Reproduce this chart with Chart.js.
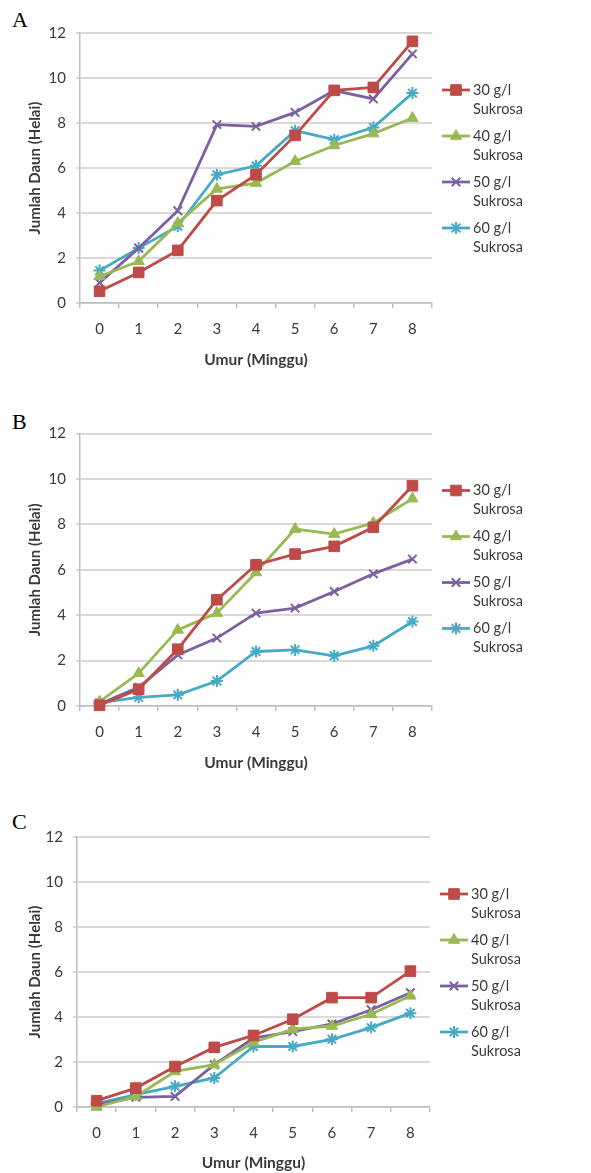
<!DOCTYPE html>
<html lang="id">
<head>
<meta charset="UTF-8" />
<title>Jumlah Daun per Minggu</title>
<script src="https://cdn.jsdelivr.net/npm/chart.js"></script>
<style>
    * { box-sizing: border-box; margin: 0; padding: 0; }
    body {
        width: 591px; height: 1173px;
        overflow: hidden;
        background: #fff;
        position: relative;
        font-family: Lato, sans-serif;
    }
    .panel { position: absolute; left: 0; width: 591px; height: 380px; }
    .huruf {
        position: absolute; left: 12px;
        font-family: 'Liberation Serif', serif;
        font-size: 22px; line-height: 22px;
        color: #000;
    }
</style>
</head>
<body>

<div class="huruf" style="top:9px">A</div>
<div class="huruf" style="top:411px">B</div>
<div class="huruf" style="top:811px">C</div>

<div class="panel" style="top:0px"><canvas id="grafikA" width="591" height="380"></canvas></div>
<div class="panel" style="top:400px"><canvas id="grafikB" width="591" height="380"></canvas></div>
<div class="panel" style="top:800px"><canvas id="grafikC" width="591" height="380"></canvas></div>

<script>
// data
const minggu = ['0', '1', '2', '3', '4', '5', '6', '7', '8'];
const tickY = [0, 2, 4, 6, 8, 10, 12];
const konsentrasi = ['30 g/l', '40 g/l', '50 g/l', '60 g/l'];

// A
const a30 = [0.52, 1.36, 2.34, 4.55, 5.70, 7.45, 9.45, 9.58, 11.63];
const a40 = [1.18, 1.85, 3.55, 5.07, 5.33, 6.30, 7.00, 7.53, 8.22];
const a50 = [0.90, 2.44, 4.10, 7.93, 7.85, 8.47, 9.44, 9.07, 11.07];
const a60 = [1.44, 2.44, 3.41, 5.70, 6.10, 7.66, 7.26, 7.80, 9.33];
// B
const b30 = [0.03, 0.74, 2.50, 4.68, 6.22, 6.69, 7.03, 7.87, 9.70];
const b40 = [0.19, 1.44, 3.35, 4.09, 5.88, 7.79, 7.57, 8.06, 9.13];
const b50 = [0.09, 0.82, 2.25, 2.99, 4.09, 4.31, 5.04, 5.82, 6.47];
const b60 = [0.15, 0.38, 0.49, 1.10, 2.40, 2.47, 2.21, 2.65, 3.72];
// C
const c30 = [0.28, 0.84, 1.80, 2.65, 3.18, 3.90, 4.86, 4.86, 6.04];
const c40 = [0.00, 0.47, 1.58, 1.88, 2.87, 3.46, 3.60, 4.12, 4.94];
const c50 = [0.10, 0.43, 0.47, 1.88, 3.06, 3.35, 3.69, 4.32, 5.08];
const c60 = [0.15, 0.55, 0.92, 1.29, 2.69, 2.69, 3.01, 3.53, 4.17];

const warna = ['#BE4B48', '#98B954', '#7D60A0', '#46AAC5'];
const gaya = ['rect', 'triangle', 'crossRot', 'star'];
const ukuran = [7.5, 6.5, 6, 6];
const teksGelap = '#3a3a3a';

// legenda di kanan, dua baris per seri
const legendaKanan = {
    id: 'legendaKanan',
    afterDraw(chart) {
        const { ctx, chartArea } = chart;
        const x0 = chartArea.right + 10;
        ctx.save();
        chart.data.datasets.forEach((ds, i) => {
            const y = chartArea.top + 57 + i * 46;
            ctx.strokeStyle = ds.borderColor;
            ctx.fillStyle = ds.backgroundColor;
            ctx.lineWidth = 2.8;
            ctx.beginPath();
            ctx.moveTo(x0, y);
            ctx.lineTo(x0 + 28, y);
            ctx.stroke();
            ctx.lineWidth = ds.pointBorderWidth;
            Chart.helpers.drawPoint(ctx, {
                pointStyle: ds.pointStyle,
                radius: ds.pointRadius,
                borderWidth: ds.pointBorderWidth,
                rotation: 0
            }, x0 + 14, y);
            ctx.fillStyle = teksGelap;
            ctx.font = '14.5px Lato';
            ctx.textAlign = 'left';
            ctx.textBaseline = 'middle';
            ds.label.forEach((baris, j) => ctx.fillText(baris, x0 + 31, y + j * 19));
        });
        ctx.restore();
    }
};

function buatGrafik(id, seri, g) {
    const H = 380;
    const padKiri = 26;
    return new Chart(document.getElementById(id), {
        type: 'line',
        data: {
            labels: minggu,
            datasets: seri.map((nilai, i) => ({
                label: [konsentrasi[i], 'Sukrosa'],
                data: nilai,
                borderColor: warna[i],
                backgroundColor: warna[i],
                borderWidth: 2.8,
                pointStyle: gaya[i],
                pointRadius: ukuran[i],
                pointBorderWidth: i < 2 ? 1 : 2,
                tension: 0,
                clip: false
            }))
        },
        options: {
            responsive: false,
            animation: false,
            devicePixelRatio: 1,
            layout: {
                padding: { top: g.top, left: padKiri, right: 591 - g.right, bottom: H - g.xBottom }
            },
            plugins: {
                legend: { display: false },
                tooltip: { enabled: false }
            },
            scales: {
                x: {
                    offset: true,
                    afterFit: s => { s.height = g.xBottom - g.bottom; },
                    grid: {
                        offset: true,
                        drawOnChartArea: false,
                        tickLength: 5,
                        color: '#bfbfbf',
                        lineWidth: 1.5
                    },
                    border: { color: '#bfbfbf', width: 1.5 },
                    ticks: {
                        color: teksGelap,
                        padding: 12,
                        maxRotation: 0,
                        font: { family: 'Lato', size: 15 }
                    },
                    title: {
                        display: true,
                        text: 'Umur (Minggu)',
                        color: teksGelap,
                        padding: 0,
                        font: { family: 'Lato', size: 15.5, weight: 'bold' }
                    }
                },
                y: {
                    min: 0,
                    max: 12,
                    afterFit: s => { s.width = g.left - padKiri; },
                    afterBuildTicks: s => { s.ticks = tickY.map(v => ({ value: v })); },
                    grid: {
                        color: '#d9d9d9',
                        lineWidth: 2,
                        tickLength: 4
                    },
                    border: { color: '#bfbfbf', width: 1.5 },
                    ticks: {
                        color: teksGelap,
                        padding: 10,
                        font: { family: 'Lato', size: 15 }
                    },
                    title: {
                        display: true,
                        text: 'Jumlah Daun (Helai)',
                        color: teksGelap,
                        padding: 0,
                        font: { family: 'Lato', size: 15, weight: 'bold' }
                    }
                }
            }
        },
        plugins: [legendaKanan]
    });
}

buatGrafik('grafikA', [a30, a40, a50, a60], { top: 33, bottom: 303, left: 80, right: 432, xBottom: 369 });
buatGrafik('grafikB', [b30, b40, b50, b60], { top: 33.5, bottom: 306, left: 80, right: 432, xBottom: 372 });
buatGrafik('grafikC', [c30, c40, c50, c60], { top: 37, bottom: 307, left: 77, right: 430, xBottom: 372 });
</script>
</body>
</html>
